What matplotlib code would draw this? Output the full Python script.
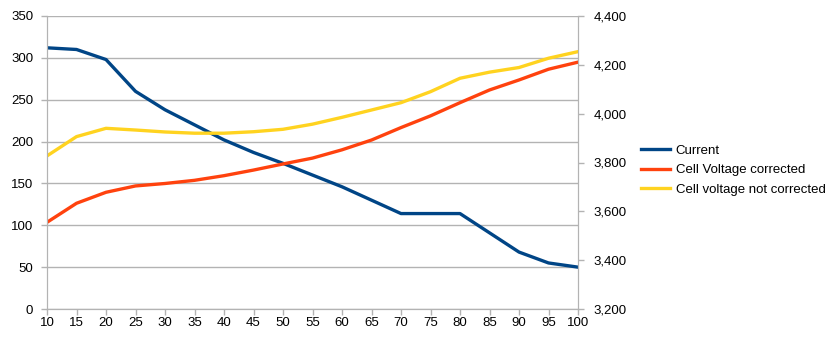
import matplotlib
matplotlib.use("Agg")
import matplotlib.pyplot as plt
from matplotlib.ticker import FuncFormatter

# load level (%) on the x axis
level = [10, 15, 20, 25, 30, 35, 40, 45, 50, 55, 60, 65, 70, 75, 80, 85, 90, 95, 100]
current = [312, 310, 298, 260, 238, 220, 202, 187, 174, 160, 146, 130, 114, 114, 114, 91, 68, 55, 50]
v_corrected = [3555, 3633, 3678, 3704, 3714, 3727, 3746, 3769, 3794, 3818, 3852, 3892, 3943, 3991, 4045, 4097, 4138, 4182, 4211]
v_not_corrected = [3827, 3906, 3940, 3933, 3925, 3920, 3920, 3926, 3936, 3957, 3985, 4015, 4045, 4090, 4145, 4170, 4189, 4227, 4254]

plt.rcParams['font.family'] = ['Liberation Sans', 'DejaVu Sans']
plt.rcParams['font.size'] = 9.5

grid_col = '#b3b3b3'

fig = plt.figure(figsize=(8.36, 3.41), dpi=100)
ax = fig.add_axes([47/836, 1 - 309/341, 531/836, 293/341])
ax2 = ax.twinx()

ax.plot(level, current, color='#004586', lw=2.4, label='Current', solid_joinstyle='round')
ax2.plot(level, v_corrected, color='#ff420e', lw=2.4, label='Cell Voltage corrected')
ax2.plot(level, v_not_corrected, color='#ffd320', lw=2.4, label='Cell voltage not corrected')

ax.set_xlim(10, 100)
ax.set_xticks(level)
ax.set_ylim(0, 350)
ax.set_yticks(range(0, 351, 50))
ax2.set_ylim(3200, 4400)
ax2.set_yticks(range(3200, 4401, 200))
ax2.yaxis.set_major_formatter(FuncFormatter(lambda v, p: '{:,.0f}'.format(v)))

ax.grid(axis='y', color=grid_col, lw=1)
ax.set_axisbelow(True)
for a in (ax, ax2):
    for s in a.spines.values():
        s.set_color(grid_col)
    a.spines['top'].set_visible(False)
    a.tick_params(colors=grid_col, labelcolor='black', length=4, width=1, labelsize=9.5)
ax.tick_params(axis='y', pad=6)
ax2.tick_params(axis='y', pad=7)
ax.tick_params(axis='x', pad=2)

h1, l1 = ax.get_legend_handles_labels()
h2, l2 = ax2.get_legend_handles_labels()
fig.legend(h1 + h2, l1 + l2, loc='center left', bbox_to_anchor=(629/836, 1 - 170/341),
           frameon=False, handlelength=2.2, handletextpad=0.45, labelspacing=0.55, fontsize=9.5)

fig.savefig('out.png', dpi=100)
